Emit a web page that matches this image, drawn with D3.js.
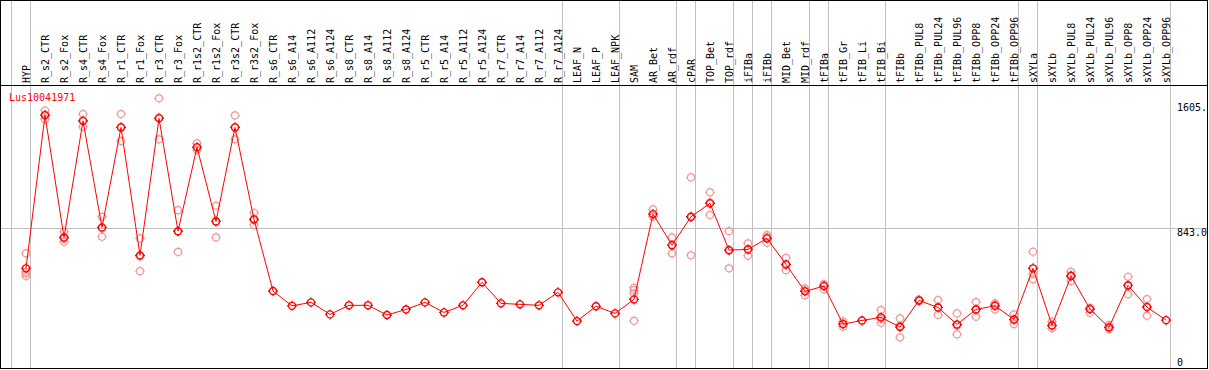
<!DOCTYPE html>
<html>
<head>
<meta charset="utf-8">
<script src="https://cdn.jsdelivr.net/npm/d3@7"></script>
<style>
  body { margin: 0; background: #fff; }
  text { font-family: "DejaVu Sans Mono", monospace; font-size: 10px; }
</style>
</head>
<body>
<div id="chart"></div>
<script>

// sample names along the x axis
var samples = ["HYP", "R_s2_CTR", "R_s2_Fox", "R_s4_CTR", "R_s4_Fox", "R_r1_CTR", "R_r1_Fox",
    "R_r3_CTR", "R_r3_Fox", "R_r1s2_CTR", "R_r1s2_Fox", "R_r3s2_CTR", "R_r3s2_Fox",
    "R_s6_CTR", "R_s6_A14", "R_s6_A112", "R_s6_A124", "R_s8_CTR", "R_s8_A14", "R_s8_A112", "R_s8_A124",
    "R_r5_CTR", "R_r5_A14", "R_r5_A112", "R_r5_A124", "R_r7_CTR", "R_r7_A14", "R_r7_A112", "R_r7_A124",
    "LEAF_N", "LEAF_P", "LEAF_NPK", "SAM", "AR_Bet", "AR_rdf", "cPAR", "TOP_Bet", "TOP_rdf",
    "iFIBa", "iFIBb", "MID_Bet", "MID_rdf", "tFIBa", "tFIB_Gr", "tFIB_Li", "tFIB_Bi",
    "tFIBb", "tFIBb_PUL8", "tFIBb_PUL24", "tFIBb_PUL96", "tFIBb_OPP8", "tFIBb_OPP24", "tFIBb_OPP96",
    "sXYLa", "sXYLb", "sXYLb_PUL8", "sXYLb_PUL24", "sXYLb_PUL96", "sXYLb_OPP8", "sXYLb_OPP24", "sXYLb_OPP96"];

// mean expression per sample
var means = [600, 1532, 788, 1497, 849, 1457, 679, 1512, 826, 1337, 885, 1457, 898,
    462, 372, 393, 320, 375, 375, 316, 350,
    393, 332, 375, 515, 387, 381, 375, 454,
    279, 369, 326, 411, 930, 741, 914, 995, 711,
    715, 782, 624, 460, 492, 261, 283, 302,
    243, 405, 362, 259, 350, 372, 289,
    600, 253, 553, 352, 241, 496, 364, 285];

// individual replicates per sample
var replicates = [
    [691, 579, 569, 553], [1560, 1530, 1506], [822, 780, 761], [1538, 1497, 1461],
    [913, 843, 792], [1538, 1459, 1374], [782, 672, 583], [1634, 1518, 1384],
    [954, 824, 700], [1360, 1332, 1319], [980, 887, 788], [1530, 1457, 1384], [938, 893, 863],
    [], [], [], [], [], [], [], [],
    [], [], [], [], [], [], [], [],
    [], [], [], [482, 468, 448, 281], [958, 918, 914], [788, 741, 691], [1153, 910, 679],
    [1062, 1000, 924], [826, 707, 600],
    [752, 717, 676], [802, 790, 755], [664, 619, 589], [478, 465, 437], [504, 500, 472],
    [261, 277, 245], [], [346, 291, 269],
    [296, 250, 180], [410, 405, 400], [407, 362, 317], [326, 253, 198], [395, 350, 305],
    [387, 379, 350], [320, 286, 261],
    [701, 566, 533], [275, 250, 235], [579, 558, 522], [360, 352, 330], [255, 238, 230],
    [549, 496, 443], [413, 368, 311], []];

// group separators are drawn right after these sample indices (-1 = before the first)
var separators = [-1, 0, 28, 31, 34, 35, 37, 38, 39, 41, 42, 45, 52, 53, 60];

var yTicks = [0, 843, 1605];
var yTickLabels = ["0", "843.0", "1605."];
var geneName = "Lus10041971";

var width = 1209, height = 370;

var svg = d3.select("#chart").append("svg")
    .attr("width", width)
    .attr("height", height);

var x = d3.scalePoint()
    .domain(samples)
    .range([26, 1166]);

var y = d3.scaleLinear()
    .domain([0, 1715])
    .range([367, 85]);

var step = x.step();

// horizontal grid line at the middle tick
svg.append("line")
    .attr("x1", 0).attr("x2", 1207)
    .attr("y1", Math.round(y(843)) + 0.5).attr("y2", Math.round(y(843)) + 0.5)
    .attr("stroke", "#c0c0c0");

// vertical group separators
svg.selectAll(".sep")
    .data(separators)
    .enter().append("line")
    .attr("class", "sep")
    .attr("x1", function(d) { return x(samples[0]) + d * step + 4.5; })
    .attr("x2", function(d) { return x(samples[0]) + d * step + 4.5; })
    .attr("y1", 0).attr("y2", 368)
    .attr("stroke", "#c0c0c0");

// header divider
svg.append("line")
    .attr("x1", 0).attr("x2", 1208)
    .attr("y1", 85.5).attr("y2", 85.5)
    .attr("stroke", "#000");

var tickPath = "M0,-5V-3.5M0,3.5V5M-5,0H-3.5M3.5,0H5";

// replicate markers
var repData = [];
replicates.forEach(function(r, i) {
    r.forEach(function(v) { repData.push({s: samples[i], v: v}); });
});

var reps = svg.selectAll(".rep")
    .data(repData)
    .enter().append("g")
    .attr("class", "rep")
    .attr("transform", function(d) { return "translate(" + x(d.s) + "," + y(d.v) + ")"; });

reps.append("circle").attr("r", 3.5).attr("fill", "none").attr("stroke", "#f09a9a").attr("stroke-width", 1.2);
reps.append("path").attr("d", tickPath).attr("stroke", "#f09a9a").attr("stroke-width", 1);

// mean line
var line = d3.line()
    .x(function(d, i) { return x(samples[i]); })
    .y(function(d) { return y(d); });

svg.append("path")
    .datum(means)
    .attr("d", line)
    .attr("fill", "none")
    .attr("stroke", "#ff0000")
    .attr("stroke-width", 1);

var pts = svg.selectAll(".mean")
    .data(means)
    .enter().append("g")
    .attr("class", "mean")
    .attr("transform", function(d, i) { return "translate(" + x(samples[i]) + "," + y(d) + ")"; });

pts.append("circle").attr("r", 3.5).attr("fill", "none").attr("stroke", "#ff0000").attr("stroke-width", 1.4);
pts.append("path").attr("d", tickPath).attr("stroke", "#ff0000").attr("stroke-width", 1.2);

// rotated sample labels in the header
svg.selectAll(".lab")
    .data(samples)
    .enter().append("text")
    .attr("class", "lab")
    .attr("transform", function(d) { return "translate(" + (x(d) + 4) + ",83) rotate(-90)"; })
    .attr("fill", "#000")
    .text(function(d) { return d; });

// gene name
svg.append("text")
    .attr("x", 9)
    .attr("y", 101)
    .attr("fill", "#ff0000")
    .text(geneName);

// value labels on the right
svg.append("g")
    .selectAll("text")
    .data(yTicks)
    .enter().append("text")
    .attr("x", 1177)
    .attr("y", function(d) { return d === 0 ? 366 : y(d) + 8; })
    .attr("fill", "#000")
    .text(function(d, i) { return yTickLabels[i]; });

// outer frame
svg.append("rect")
    .attr("x", 0.5).attr("y", 0.5)
    .attr("width", 1207).attr("height", 368)
    .attr("fill", "none")
    .attr("stroke", "#000");

</script>
</body>
</html>
